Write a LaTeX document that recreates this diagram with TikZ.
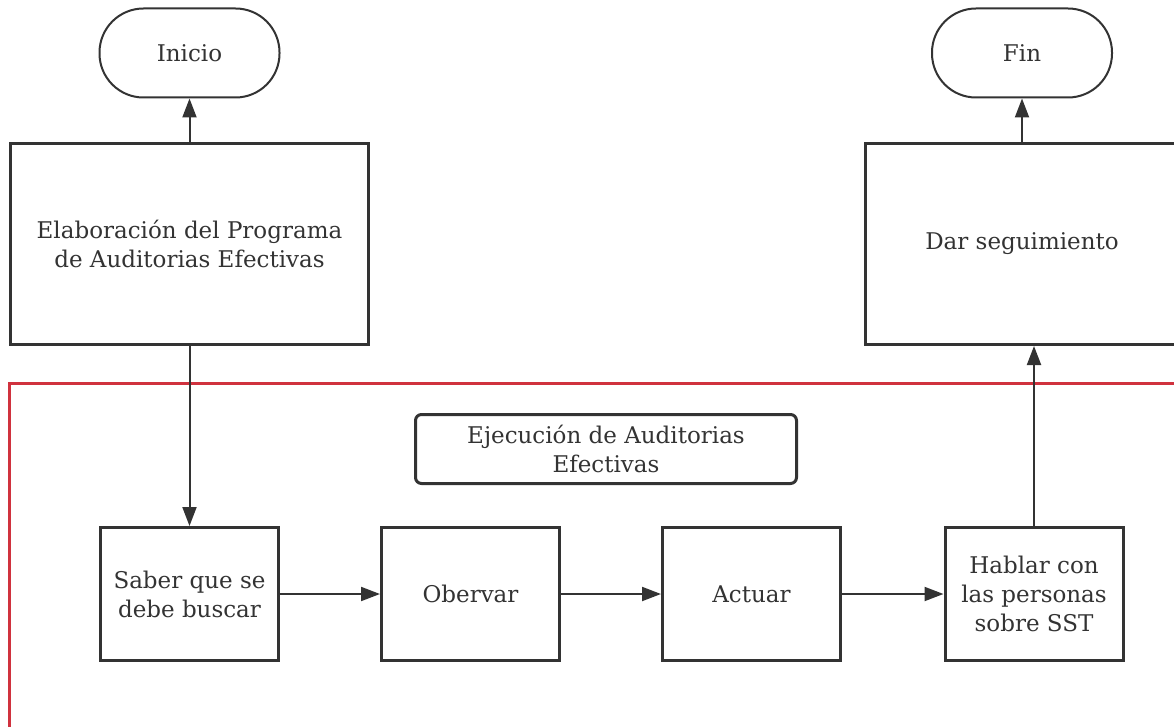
\documentclass[tikz,border=0pt]{standalone}
\usepackage{fontspec}
\setmainfont{DejaVu Serif}
\usetikzlibrary{arrows.meta}
\definecolor{ink}{HTML}{333333}
\definecolor{lane}{HTML}{D0323E}
\begin{document}
\begin{tikzpicture}[x=1pt,y=-1pt,
  lbl/.style={text=ink, align=center, inner sep=0pt, font=\fontsize{23}{29}\selectfont},
  stepbox/.style={lbl, draw=ink, line width=3pt, minimum width=178pt, minimum height=133pt},
  bigbox/.style={lbl, draw=ink, line width=3pt, minimum height=201pt},
  terminal/.style={lbl, draw=ink, line width=2pt, rounded corners=44pt, minimum width=180pt, minimum height=89pt},
  titlebox/.style={lbl, draw=ink, line width=3pt, rounded corners=6pt, minimum width=381pt, minimum height=69pt},
  flow/.style={draw=ink, line width=2pt, -{Triangle[length=19pt,width=14pt]}}]
\useasboundingbox (0,0) rectangle (1174,727);
\clip (0,0) rectangle (1174,727);
\fill[white] (0,0) rectangle (1174,727);

% swimlane frame
\coordinate (laneR) at (1180,383);
\coordinate (laneC) at (9.5,383);
\coordinate (laneB) at (9.5,735);
\draw[lane, line width=3pt] (laneR) -- (laneC) -- (laneB);

% start and end terminals
\node[terminal] (inicio) at (189.5,53) {Inicio};
\node[terminal] (fin) at (1022,53) {Fin};

% upper process boxes
\node[bigbox, minimum width=358pt] (prog) at (189.5,244) {Elaboración del Programa\\de Auditorias Efectivas};
\node[bigbox, minimum width=313pt] (segui) at (1022,244) {Dar seguimiento};

% lane title
\node[titlebox] (ejec) at (606,449) {Ejecución de Auditorias\\Efectivas};

% steps inside the lane
\node[stepbox] (saber) at (189.5,594) {Saber que se\\debe buscar};
\node[stepbox] (obs) at (470.5,594) {Obervar};
\node[stepbox] (actuar) at (751.5,594) {Actuar};
\node[stepbox] (hablar) at (1034,594) {Hablar con\\las personas\\sobre SST};

% connectors
\draw[flow] (prog.north) -- (inicio.south);
\draw[flow] (segui.north) -- (fin.south);
\draw[flow] (prog.south) -- (saber.north);
\draw[flow] (saber.east) -- (obs.west);
\draw[flow] (obs.east) -- (actuar.west);
\draw[flow] (actuar.east) -- (hablar.west);
\draw[flow] (hablar.north) -- (hablar.north |- segui.south);
\end{tikzpicture}
\end{document}
